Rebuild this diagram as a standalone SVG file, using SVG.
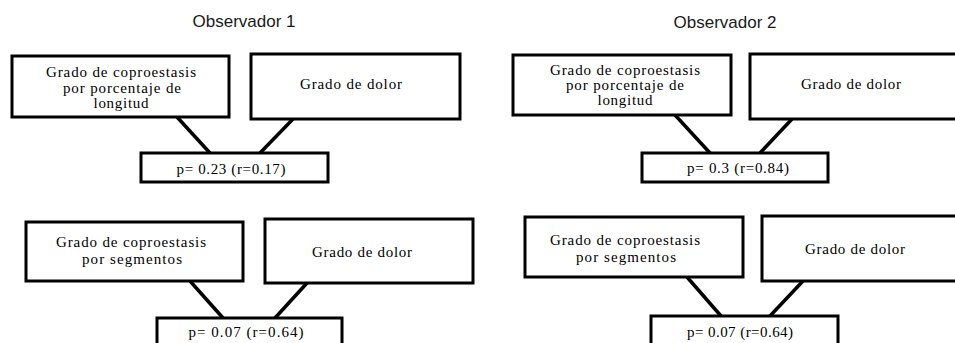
<svg xmlns="http://www.w3.org/2000/svg" width="955" height="343" viewBox="0 0 955 343">
<style>
.box{fill:#fff;stroke:#000;stroke-width:3}
.t{font-family:"Liberation Serif","Times New Roman",serif;font-size:15px;fill:#000;text-anchor:middle}
.h{font-family:"Liberation Sans",Arial,sans-serif;font-size:17px;fill:#1a1a1a;text-anchor:middle}
.c line{stroke:#000;stroke-width:3.5}
</style>
<rect width="955" height="343" fill="#fff"/>
<text class="h" x="244" y="27">Observador 1</text>
<text class="h" x="725" y="28">Observador 2</text>
<g class="c" id="connectors">
<line x1="177" y1="117" x2="210" y2="153"/>
<line x1="293" y1="119" x2="260" y2="153"/>
<line x1="675" y1="115" x2="710" y2="153"/>
<line x1="792" y1="119" x2="760" y2="153"/>
<line x1="190" y1="281" x2="223" y2="318"/>
<line x1="307" y1="283" x2="275" y2="318"/>
<line x1="687" y1="277" x2="721" y2="316"/>
<line x1="803" y1="281" x2="770" y2="316"/>
</g>
<g id="a1"><rect class="box" x="12" y="56" width="217" height="61"/>
<text class="t" x="121" y="77" textLength="150" lengthAdjust="spacing">Grado de coproestasis</text><text class="t" x="122" y="93" textLength="118" lengthAdjust="spacing">por porcentaje de</text><text class="t" x="121" y="108" textLength="55" lengthAdjust="spacing">longitud</text></g>
<g id="b1"><rect class="box" x="251" y="54" width="209" height="65"/><text class="t" x="351" y="89" textLength="102" lengthAdjust="spacing">Grado de dolor</text></g>
<g id="r1"><rect class="box" x="141" y="153" width="187" height="29"/><text class="t" x="231" y="174" textLength="109" lengthAdjust="spacing">p= 0.23 (r=0.17)</text></g>
<g id="a2"><rect class="box" x="513" y="55" width="218" height="60"/>
<text class="t" x="625" y="75" textLength="150" lengthAdjust="spacing">Grado de coproestasis</text><text class="t" x="625" y="90" textLength="118" lengthAdjust="spacing">por porcentaje de</text><text class="t" x="625" y="105" textLength="55" lengthAdjust="spacing">longitud</text></g>
<g id="b2"><rect class="box" x="750" y="54" width="210" height="65"/><text class="t" x="851" y="89" textLength="100" lengthAdjust="spacing">Grado de dolor</text></g>
<g id="r2"><rect class="box" x="642" y="153" width="186" height="29"/><text class="t" x="738" y="173" textLength="102" lengthAdjust="spacing">p= 0.3 (r=0.84)</text></g>
<g id="a3"><rect class="box" x="26" y="222" width="217" height="59"/>
<text class="t" x="131" y="247" textLength="150" lengthAdjust="spacing">Grado de coproestasis</text><text class="t" x="132" y="264" textLength="100" lengthAdjust="spacing">por segmentos</text></g>
<g id="b3"><rect class="box" x="265" y="219" width="208" height="64"/><text class="t" x="362" y="257" textLength="100" lengthAdjust="spacing">Grado de dolor</text></g>
<g id="r3"><rect class="box" x="157" y="318" width="185" height="32"/><text class="t" x="246" y="337" textLength="115" lengthAdjust="spacing">p= 0.07 (r=0.64)</text></g>
<g id="a4"><rect class="box" x="525" y="217" width="218" height="60"/>
<text class="t" x="625" y="245" textLength="150" lengthAdjust="spacing">Grado de coproestasis</text><text class="t" x="626" y="262" textLength="100" lengthAdjust="spacing">por segmentos</text></g>
<g id="b4"><rect class="box" x="762" y="216" width="198" height="65"/><text class="t" x="855" y="254" textLength="100" lengthAdjust="spacing">Grado de dolor</text></g>
<g id="r4"><rect class="box" x="651" y="316" width="187" height="34"/><text class="t" x="740" y="337" textLength="106" lengthAdjust="spacing">p= 0.07 (r=0.64)</text></g>
</svg>
